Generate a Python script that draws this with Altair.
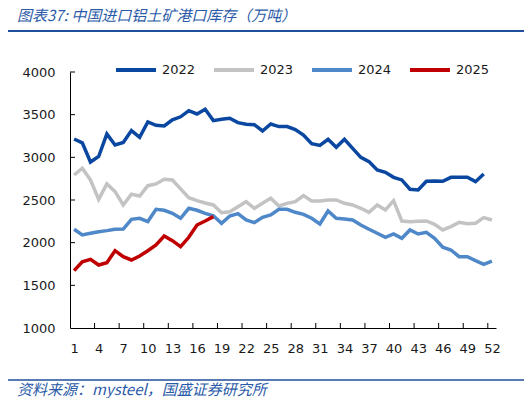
import altair as alt
import pandas as pd

weeks_labels = [1, 4, 7, 10, 13, 16, 19, 22, 25, 28, 31, 34, 37, 40, 43, 46, 49, 52]
years = ["2022", "2023", "2024", "2025"]
colors = ["#0A47A0", "#C3C3C3", "#4F88C9", "#C00000"]

v2022 = [3215, 3170, 2945, 3010, 3275, 3145, 3175, 3313, 3235, 3415,
         3375, 3367, 3440, 3475, 3547, 3508, 3563, 3430, 3446, 3458,
         3407, 3387, 3383, 3309, 3391, 3360, 3360, 3325, 3262, 3160,
         3140, 3211, 3117, 3211, 3105, 3000, 2950, 2852, 2825, 2766,
         2735, 2626, 2617, 2720, 2723, 2720, 2766, 2766, 2766, 2715,
         2805]
v2023 = [2793, 2872, 2735, 2508, 2688, 2598, 2442, 2567, 2547, 2668,
         2688, 2743, 2735, 2630, 2527, 2492, 2465, 2442, 2351, 2363,
         2422, 2480, 2403, 2461, 2520, 2430, 2461, 2480, 2551, 2488,
         2488, 2500, 2500, 2461, 2442, 2403, 2356, 2442, 2383, 2492,
         2254, 2246, 2250, 2254, 2215, 2149, 2188, 2238, 2223, 2227,
         2293, 2266]
v2024 = [2157, 2090, 2110, 2129, 2141, 2157, 2160, 2274, 2286, 2247,
         2391, 2380, 2344, 2286, 2403, 2380, 2344, 2316, 2227, 2313,
         2340, 2266, 2235, 2297, 2325, 2391, 2391, 2356, 2332, 2286,
         2219, 2371, 2286, 2278, 2266, 2207, 2157, 2110, 2063, 2102,
         2051, 2149, 2102, 2122, 2051, 1946, 1914, 1836, 1836, 1789,
         1746, 1785]
v2025 = [1672, 1777, 1805, 1738, 1766, 1906, 1836, 1797, 1844, 1906,
         1973, 2078, 2023, 1953, 2063, 2207, 2254, 2305]

y_ticks = [1000, 1500, 2000, 2500, 3000, 3500, 4000]
y_tick_marks = [1500, 2000, 2500, 3000, 3500, 4000]
x_tick_marks = [3.5, 6.5, 9.5, 12.5, 15.5, 18.5, 21.5, 24.5, 27.5, 30.5,
                33.5, 36.5, 39.5, 42.5, 45.5, 48.5, 51.5]

title_text = "图表37:  中国进口铝土矿港口库存（万吨）"
source_text = "资料来源：mysteel，国盛证券研究所"

rows = []
for yr, vals in zip(years, [v2022, v2023, v2024, v2025]):
    for i, v in enumerate(vals):
        rows.append({"week": i + 1, "value": v, "year": yr})
df = pd.DataFrame(rows)

W, H = 426, 256
FONT = "DejaVu Sans"
BLUE = "#1F4E9A"
xscale = alt.Scale(domain=[0.5, 52.5], nice=False, zero=False)
yscale = alt.Scale(domain=[1000, 4000], nice=False, zero=False)
xaxis = alt.Axis(values=weeks_labels, title=None, ticks=False, tickSize=0,
                 grid=False, labelPadding=14, labelFontSize=13, labelFont=FONT,
                 labelColor="#1a1a1a", domainColor="#000000", labelFlush=False)
yaxis = alt.Axis(values=y_ticks, title=None, ticks=False, tickSize=0, grid=False,
                 format="d", labelPadding=15, labelFontSize=13, labelFont=FONT,
                 labelColor="#1a1a1a", domainColor="#000000")

lines = alt.Chart(df).mark_line(strokeWidth=3.5, clip=False).encode(
    x=alt.X("week:Q", scale=xscale, axis=xaxis),
    y=alt.Y("value:Q", scale=yscale, axis=yaxis),
    color=alt.Color("year:N", scale=alt.Scale(domain=years, range=colors),
                    legend=alt.Legend(title=None, orient="none", legendX=44, legendY=-24,
                                      direction="horizontal", symbolType="stroke",
                                      symbolSize=1600, symbolStrokeWidth=4,
                                      labelFontSize=13, labelFont=FONT, labelColor="#1a1a1a",
                                      labelOffset=4, columnPadding=10)),
    detail="year:N",
)

xt = alt.Chart(pd.DataFrame({"week": x_tick_marks})).mark_rule(color="#000000", strokeWidth=1).encode(
    x=alt.X("week:Q", scale=xscale, axis=xaxis),
    y=alt.value(H - 5), y2=alt.value(H),
)
yt = alt.Chart(pd.DataFrame({"value": y_tick_marks})).mark_rule(color="#000000", strokeWidth=1).encode(
    y=alt.Y("value:Q", scale=yscale, axis=yaxis),
    x=alt.value(0), x2=alt.value(5),
)

title = alt.Chart(pd.DataFrame({"t": [title_text]})).mark_text(
    align="left", baseline="middle", fontSize=15, font="Noto Sans CJK SC",
    fontStyle="italic", color="#2B5BA8").encode(
    x=alt.value(-53), y=alt.value(-56), text="t:N")
src = alt.Chart(pd.DataFrame({"t": [source_text]})).mark_text(
    align="left", baseline="middle", fontSize=15, font="Noto Sans CJK SC",
    fontStyle="italic", color="#2B5BA8").encode(
    x=alt.value(-53), y=alt.value(318), text="t:N")

top_rule = alt.Chart(pd.DataFrame({"a": [0]})).mark_rule(color=BLUE, strokeWidth=2).encode(
    x=alt.value(-65), x2=alt.value(470), y=alt.value(-41))
bot_rule = alt.Chart(pd.DataFrame({"a": [0]})).mark_rule(color=BLUE, strokeWidth=1.5).encode(
    x=alt.value(-65), x2=alt.value(470), y=alt.value(308))

chart = alt.layer(lines, xt, yt, title, src, top_rule, bot_rule).properties(
    width=W, height=H,
    autosize=alt.AutoSizeParams(type="none"),
    padding={"left": 62, "top": 64, "right": 28, "bottom": 70},
).configure_view(stroke=None)

chart.save("out.html", embed_options={"renderer": "svg", "actions": False})
